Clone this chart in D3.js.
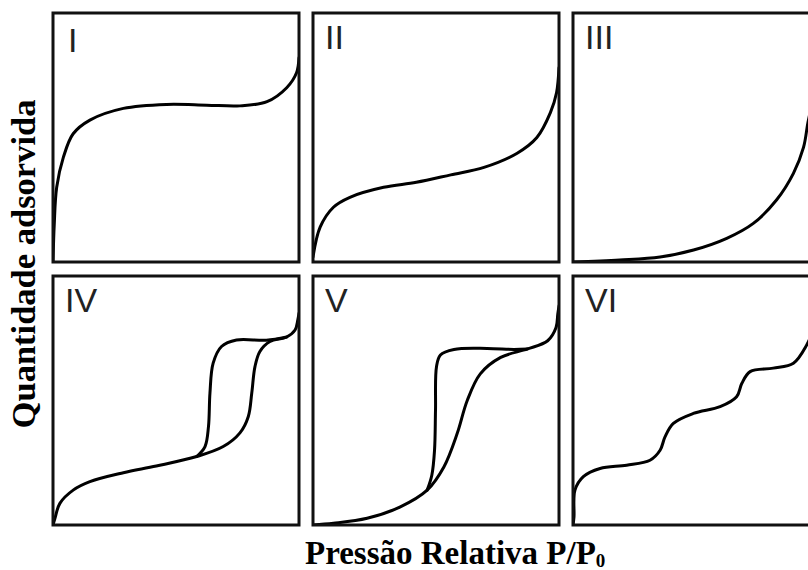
<!DOCTYPE html>
<html>
<head>
<meta charset="utf-8">
<script src="https://cdn.jsdelivr.net/npm/d3@7"></script>
<style>
  html, body { margin: 0; padding: 0; background: #fff; }
  svg { display: block; }
</style>
</head>
<body>
<svg id="chart" width="808" height="570"></svg>
<script>
// Six IUPAC isotherm types (x = P/P0, y = relative amount)
const panelNames = ["I", "II", "III", "IV", "V", "VI"];

const typeI = [
  [0, 0], [0.005, 0.15], [0.015, 0.30], [0.042, 0.42], [0.082, 0.515], [0.15, 0.57],
  [0.286, 0.617], [0.462, 0.633], [0.625, 0.63], [0.76, 0.627], [0.87, 0.644],
  [0.95, 0.70], [0.99, 0.76], [1.0, 0.82]
];
const typeII = [
  [0, 0.02], [0.029, 0.14], [0.083, 0.22], [0.15, 0.26], [0.287, 0.30], [0.42, 0.32],
  [0.56, 0.35], [0.695, 0.38], [0.83, 0.437], [0.91, 0.50], [0.965, 0.60],
  [0.99, 0.68], [1.0, 0.78]
];
const typeIII = [
  [0.0, 0.0], [0.19, 0.008], [0.354, 0.02], [0.49, 0.048], [0.625, 0.095], [0.733, 0.155],
  [0.828, 0.25], [0.896, 0.356], [0.937, 0.46], [0.955, 0.56], [0.98, 0.68], [1.0, 0.85]
];
const typeIVads = [
  [0, 0], [0.008, 0.027], [0.028, 0.087], [0.082, 0.14], [0.15, 0.174], [0.286, 0.21],
  [0.42, 0.237], [0.584, 0.275], [0.692, 0.315], [0.76, 0.37], [0.794, 0.436],
  [0.808, 0.53], [0.821, 0.636], [0.841, 0.697], [0.882, 0.737], [0.95, 0.755],
  [0.984, 0.783], [0.995, 0.823], [1.0, 0.85]
];
const typeIVdes = [
  [0.584, 0.275], [0.618, 0.315], [0.632, 0.395], [0.638, 0.53], [0.651, 0.65],
  [0.685, 0.717], [0.746, 0.743], [0.867, 0.742], [0.95, 0.755]
];
const typeVads = [
  [0, 0], [0.083, 0.007], [0.22, 0.027], [0.355, 0.073], [0.464, 0.14], [0.532, 0.233],
  [0.586, 0.367], [0.627, 0.50], [0.68, 0.607], [0.763, 0.673], [0.872, 0.707],
  [0.954, 0.74], [0.988, 0.793], [0.995, 0.847], [1.0, 0.88]
];
const typeVdes = [
  [0.464, 0.14], [0.483, 0.2], [0.494, 0.30], [0.498, 0.462], [0.502, 0.636],
  [0.518, 0.683], [0.573, 0.705], [0.708, 0.709], [0.817, 0.705], [0.872, 0.707]
];
const typeVI = [
  [0, 0], [0.004, 0.033], [0.008, 0.14], [0.042, 0.194], [0.11, 0.227], [0.218, 0.24],
  [0.313, 0.26], [0.354, 0.30], [0.374, 0.354], [0.408, 0.408], [0.489, 0.448],
  [0.598, 0.475], [0.665, 0.515], [0.686, 0.568], [0.72, 0.616], [0.814, 0.63],
  [0.896, 0.65], [0.95, 0.723], [0.98, 0.79], [1.0, 0.85]
];

const panelCurves = [
  [typeI], [typeII], [typeIII],
  [typeIVads, typeIVdes], [typeVads, typeVdes], [typeVI]
];

const svg = d3.select("#chart");

// layout
const panelW = 246, panelH = 249;
const colX = [53, 313, 573];
const rowY = [13, 276];

const x = d3.scaleLinear().domain([0, 1]).range([0, panelW]);
const y = d3.scaleLinear().domain([0, 1]).range([panelH, 0]);

const line = d3.line()
  .x(d => x(d[0]))
  .y(d => y(d[1]))
  .curve(d3.curveCatmullRom.alpha(0.5));

const defs = svg.append("defs");
defs.append("clipPath").attr("id", "panelClip")
  .append("rect").attr("width", panelW).attr("height", panelH);

panelNames.forEach((name, i) => {
  const g = svg.append("g")
    .attr("transform", `translate(${colX[i % 3]},${rowY[Math.floor(i / 3)]})`);

  g.append("g").attr("clip-path", "url(#panelClip)")
    .selectAll("path")
    .data(panelCurves[i])
    .join("path")
    .attr("d", line)
    .attr("fill", "none")
    .attr("stroke", "#000")
    .attr("stroke-width", 3)
    .attr("stroke-linecap", "round");

  g.append("rect")
    .attr("width", panelW)
    .attr("height", panelH)
    .attr("fill", "none")
    .attr("stroke", "#111")
    .attr("stroke-width", 3);

  g.append("text")
    .attr("x", i === 0 ? 15 : 12)
    .attr("y", i === 0 ? 39 : 36)
    .attr("font-family", "'Liberation Sans', Arial, sans-serif")
    .attr("font-size", 34)
    .attr("fill", "#222")
    .text(name);
});

// axis titles
svg.append("text")
  .attr("transform", "translate(35,264) rotate(-90)")
  .attr("text-anchor", "middle")
  .attr("font-family", "'Liberation Serif', 'Times New Roman', serif")
  .attr("font-weight", "bold")
  .attr("font-size", 34.5)
  .attr("fill", "#000")
  .text("Quantidade adsorvida");

const xt = svg.append("text")
  .attr("x", 305)
  .attr("y", 564)
  .attr("font-family", "'Liberation Serif', 'Times New Roman', serif")
  .attr("font-weight", "bold")
  .attr("font-size", 33)
  .attr("fill", "#000");
xt.append("tspan").text("Pressão Relativa P/P");
xt.append("tspan").attr("font-size", 19).attr("dy", 3).text("0");
</script>
</body>
</html>
